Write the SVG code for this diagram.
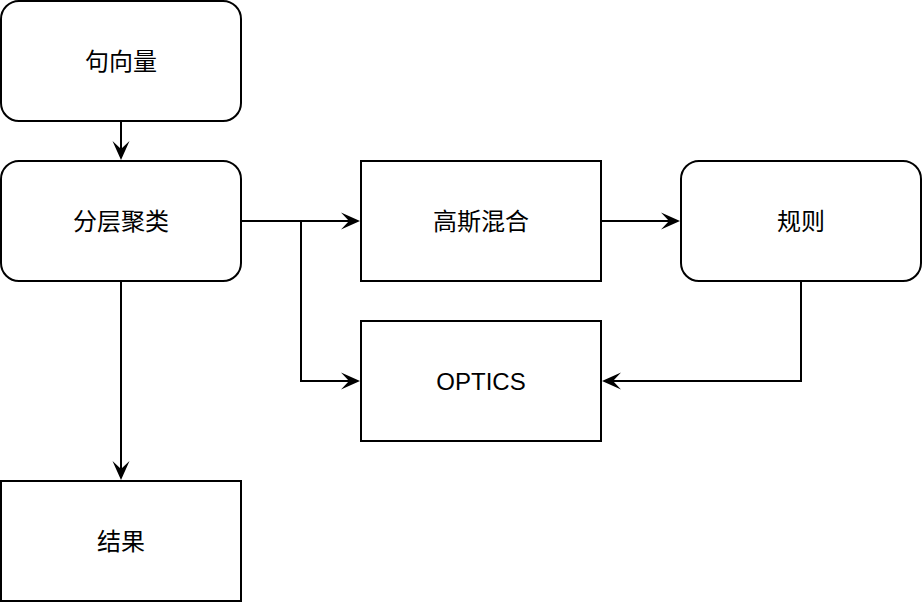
<svg xmlns="http://www.w3.org/2000/svg" width="922" height="602" viewBox="0 0 922 602">
<style>
.box{fill:#ffffff;stroke:#000000;stroke-width:2}
.lbl{font-family:"Liberation Sans","Noto Sans CJK SC",sans-serif;font-size:24px;fill:#000000;text-anchor:middle;dominant-baseline:central}
.edge{fill:none;stroke:#000000;stroke-width:2}
</style>
<defs>
<marker id="arrow" markerUnits="userSpaceOnUse" markerWidth="20" markerHeight="20" viewBox="0 0 20 20" refX="8" refY="10" orient="auto">
<path d="M0,1.5 L19,10 L0,18.5 L8,10 Z" fill="#000000"/>
</marker>
</defs>
<rect width="922" height="602" fill="#ffffff"/>
<g id="connectors">
<path class="edge" d="M121,121 V149" marker-end="url(#arrow)"/>
<path class="edge" d="M241,221 H349" marker-end="url(#arrow)"/>
<path class="edge" d="M301,221 V381 H349" marker-end="url(#arrow)"/>
<path class="edge" d="M601,221 H669" marker-end="url(#arrow)"/>
<path class="edge" d="M801,281 V381 H613" marker-end="url(#arrow)"/>
<path class="edge" d="M121,281 V469" marker-end="url(#arrow)"/>
</g>
<g id="node-sentence-vector">
<rect class="box" x="1" y="1" width="240" height="120" rx="18" ry="18"/>
<text class="lbl" x="121" y="61">句向量</text>
</g>
<g id="node-hierarchical">
<rect class="box" x="1" y="161" width="240" height="120" rx="18" ry="18"/>
<text class="lbl" x="121" y="221">分层聚类</text>
</g>
<g id="node-gmm">
<rect class="box" x="361" y="161" width="240" height="120"/>
<text class="lbl" x="481" y="221">高斯混合</text>
</g>
<g id="node-rules">
<rect class="box" x="681" y="161" width="240" height="120" rx="18" ry="18"/>
<text class="lbl" x="801" y="221">规则</text>
</g>
<g id="node-optics">
<rect class="box" x="361" y="321" width="240" height="120"/>
<text class="lbl" x="481" y="381">OPTICS</text>
</g>
<g id="node-result">
<rect class="box" x="1" y="481" width="240" height="120"/>
<text class="lbl" x="121" y="541">结果</text>
</g>
</svg>
